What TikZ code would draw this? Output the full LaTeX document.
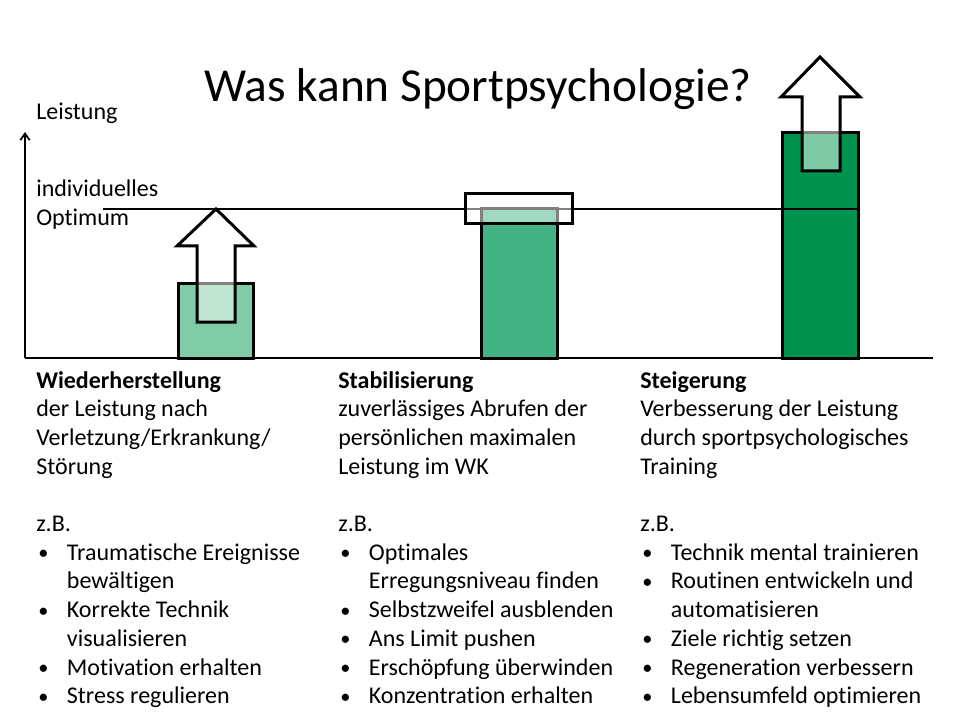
\documentclass[tikz,border=0pt]{standalone}
\usepackage{fontspec}
\setmainfont[Ligatures={NoCommon}]{Carlito}
\usetikzlibrary{arrows.meta}
\definecolor{barA}{HTML}{80CBA8}
\definecolor{barB}{HTML}{43B285}
\definecolor{barC}{HTML}{00934F}
\newcommand\bul{\makebox[23pt][l]{\hspace{1.5pt}\raisebox{0.3pt}{\scalebox{0.85}{•}}}}
\newcommand\cnt{\hspace*{23pt}}
\begin{document}
\begin{tikzpicture}[x=0.75pt,y=-0.75pt,
  txt/.style={anchor=base west,inner sep=0pt,font=\fontsize{18}{21.5}\selectfont},
  bar/.style={draw=black,line width=2.25pt},
  uparrow/.style={draw=black,line width=2.25pt,fill=white,fill opacity=0.5,line join=miter},
  axis/.style={line width=1.3pt}]
\useasboundingbox (0,0) rectangle (960,720);
% title
\node[anchor=base,inner sep=0pt,font=\fontsize{35.5}{40}\selectfont] (title) at (478,102) {Was kann Sportpsychologie?};
\node[txt] (leist) at (36,120) {Leistung};
\node[txt] (ind) at (36,197) {individuelles};
\node[txt] (opt) at (36,226) {Optimum};
% axes
\coordinate (o) at (25,358);
\coordinate (ytop) at (25,132);
\coordinate (xend) at (933,358);
\draw[axis,-{Straight Barb[length=5pt,width=7pt]}] (o) -- (ytop);
\draw[axis] (o) -- (xend);
% bars
\draw[bar,fill=barA] (178,358) rectangle (253,284);
\draw[bar,fill=barB] (481,358) rectangle (557,209);
\draw[bar,fill=barC] (782,358) rectangle (858,133);
% optimum line
\coordinate (oa) at (103,209);
\coordinate (ob) at (858,209);
\draw[line width=0.8pt] (oa) -- (ob);
% arrows / box
\draw[uparrow] (216,209) -- (254,246) -- (235,246) -- (235,322) -- (197,322) -- (197,246) -- (177,246) -- cycle;
\draw[uparrow] (465,194) rectangle (572,224);
\draw[uparrow] (820,57) -- (860,97) -- (840,97) -- (840,171) -- (802,171) -- (802,97) -- (781,97) -- cycle;
% column texts
\foreach \t [count=\i] in {\textbf{Wiederherstellung},der Leistung nach,Verletzung/Erkrankung/,Störung,{},z.B.,\bul Traumatische Ereignisse,\cnt bewältigen,\bul Korrekte Technik,\cnt visualisieren,\bul Motivation erhalten,\bul Stress regulieren}
  \node[txt] (a\i) at (36,{388+(\i-1)*28.7}) {\t};
\foreach \t [count=\i] in {\textbf{Stabilisierung},zuverlässiges Abrufen der,persönlichen maximalen,Leistung im WK,{},z.B.,\bul Optimales,\cnt Erregungsniveau finden,\bul Selbstzweifel ausblenden,\bul Ans Limit pushen,\bul Erschöpfung überwinden,\bul Konzentration erhalten}
  \node[txt] (b\i) at (338,{388+(\i-1)*28.7}) {\t};
\foreach \t [count=\i] in {\textbf{Steigerung},Verbesserung der Leistung,durch sportpsychologisches,Training,{},z.B.,\bul Technik mental trainieren,\bul Routinen entwickeln und,\cnt automatisieren,\bul Ziele richtig setzen,\bul Regeneration verbessern,\bul Lebensumfeld optimieren}
  \node[txt] (c\i) at (640,{388+(\i-1)*28.7}) {\t};
\end{tikzpicture}
\end{document}
